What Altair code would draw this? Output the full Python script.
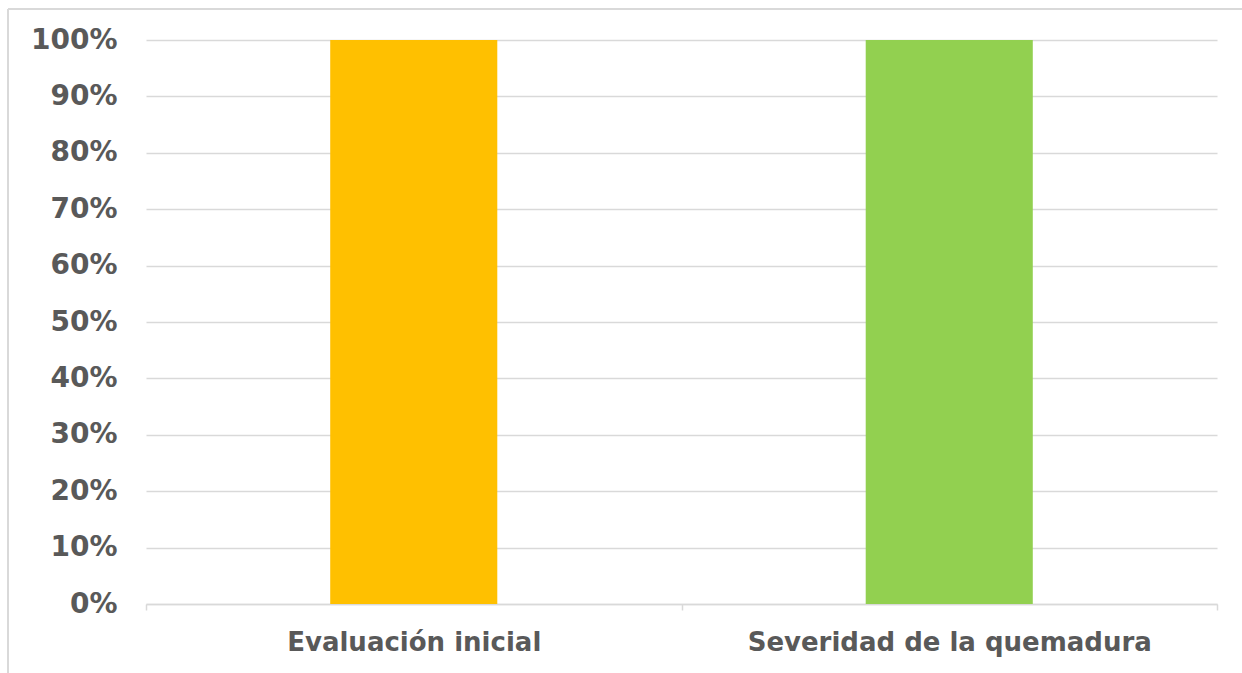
import altair as alt
import pandas as pd

# Categories and their share (%) — both bars reach the top of the scale
categorias = ["Evaluación inicial", "Severidad de la quemadura"]
valores = [100, 100]
colores = ["#FFC000", "#92D050"]

df = pd.DataFrame({"categoria": categorias, "valor": [v / 100 for v in valores]})

FONT = "DejaVu Sans"
TEXT = "#595959"
GRID = "#D9D9D9"

bars = alt.Chart(df).mark_bar(width=alt.RelativeBandSize(0.312)).encode(
    x=alt.X(
        "categoria:N",
        sort=categorias,
        scale=alt.Scale(paddingInner=0, paddingOuter=0),
        axis=alt.Axis(
            title=None,
            labelAngle=0,
            labelFont=FONT,
            labelFontSize=26,
            labelFontWeight="bold",
            labelColor=TEXT,
            labelPadding=19,
            labelLimit=0,
            domainColor=GRID,
            domainWidth=1.5,
            tickColor=GRID,
            tickWidth=1.5,
            tickSize=6,
            tickBand="extent",
            grid=False,
        ),
    ),
    y=alt.Y(
        "valor:Q",
        scale=alt.Scale(domain=[0, 1], nice=False),
        axis=alt.Axis(
            title=None,
            format=".0%",
            values=[i / 10 for i in range(11)],
            labelFont=FONT,
            labelFontSize=28,
            labelFontWeight="bold",
            labelColor=TEXT,
            labelPadding=29,
            labelLimit=0,
            ticks=False,
            domain=False,
            gridColor=GRID,
            gridWidth=1.5,
        ),
    ),
    color=alt.Color(
        "categoria:N",
        scale=alt.Scale(domain=categorias, range=colores),
        legend=None,
    ),
)

# Light frame around the chart area (top and left edges)
frame_top = alt.Chart(df).mark_rule(color=GRID, strokeWidth=2).encode(
    x=alt.value(-138), x2=alt.value(1200), y=alt.value(-31)
)
frame_left = alt.Chart(df).mark_rule(color=GRID, strokeWidth=2).encode(
    x=alt.value(-138), y=alt.value(-31), y2=alt.value(700)
)

chart = (
    alt.layer(bars, frame_top, frame_left)
    .properties(
        width=1071,
        height=564,
        padding={"left": 146, "top": 40, "right": 25, "bottom": 69},
        autosize=alt.AutoSizeParams(type="none"),
        background="white",
    )
    .configure_view(stroke=None)
)

chart.save("out.html", embed_options={"renderer": "svg", "actions": False})
